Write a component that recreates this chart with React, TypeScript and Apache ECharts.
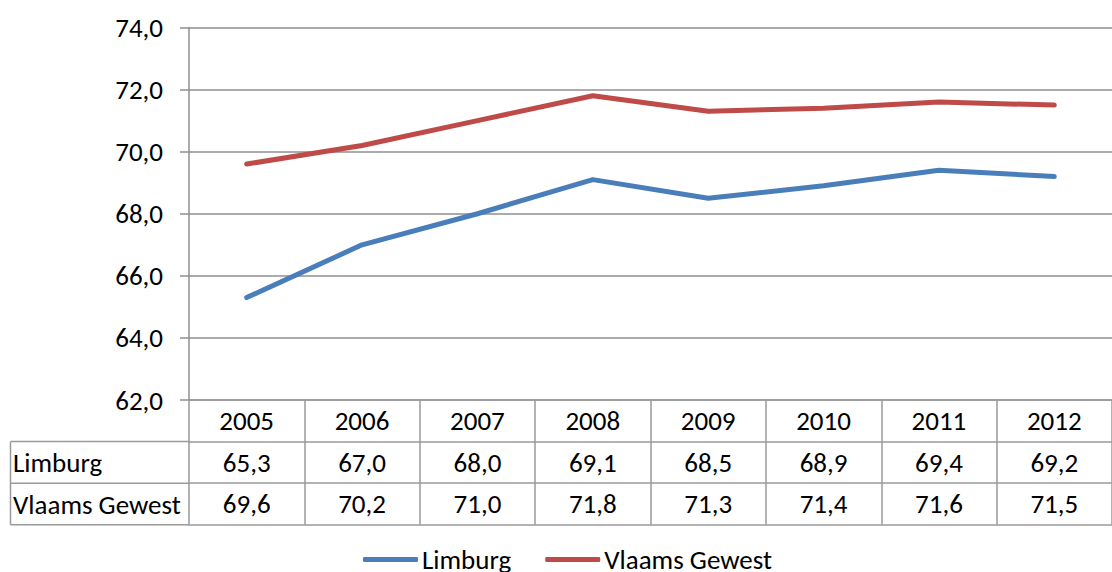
import React, { useEffect, useRef } from "react";
import * as echarts from "echarts";

const years = ["2005", "2006", "2007", "2008", "2009", "2010", "2011", "2012"];
const limburg = [65.3, 67.0, 68.0, 69.1, 68.5, 68.9, 69.4, 69.2];
const vlaams = [69.6, 70.2, 71.0, 71.8, 71.3, 71.4, 71.6, 71.5];
const seriesNames = ["Limburg", "Vlaams Gewest"];
const yMin = 62;
const yMax = 74;
const yStep = 2;

const FONT = "Calibri, Carlito, Lato, sans-serif";
const FS = 27;
const GRID_COLOR = "#8f8f8f";
const TABLE_COLOR = "#9a9a9a";
const BLUE = "#4A7EBB";
const RED = "#BE4B48";

const fmt = (v: number) => v.toFixed(1).replace(".", ",");

export default function App() {
  const ref = useRef<HTMLDivElement>(null);
  useEffect(() => {
    if (!ref.current) return;
    const chart = echarts.init(ref.current, undefined, { renderer: "svg" });
    const gridTop = 27.5;
    const gridBottomY = 400;
    const gridLeft = 189;
    const rowH = 41.6;
    const baseAxis = {
      type: "category" as const,
      gridIndex: 0,
      position: "bottom" as const,
      boundaryGap: true,
      axisLine: { show: true, lineStyle: { color: TABLE_COLOR, width: 1.5 } },
      axisTick: { show: false },
      splitLine: { show: false },
    };
    const labelStyle = {
      interval: 0,
      color: "#000",
      fontFamily: FONT,
      fontSize: FS,
      verticalAlign: "middle" as const,
      margin: 20.5,
    };
    chart.setOption({
      animation: false,
      grid: {
        left: gridLeft,
        right: -18.6,
        top: gridTop,
        bottom: 572 - gridBottomY,
        containLabel: false,
      },
      xAxis: [
        {
          ...baseAxis,
          data: years,
          axisTick: {
            show: true,
            inside: false,
            length: rowH * 3,
            alignWithLabel: false,
            interval: 0,
            lineStyle: { color: TABLE_COLOR, width: 1.5 },
          },
          axisLabel: { ...labelStyle },
        },
        {
          ...baseAxis,
          offset: rowH,
          data: limburg.map(fmt),
          axisLabel: { ...labelStyle },
        },
        {
          ...baseAxis,
          offset: rowH * 2,
          data: vlaams.map(fmt),
          axisLabel: { ...labelStyle },
        },
        {
          ...baseAxis,
          offset: rowH * 3,
          data: years.map(() => ""),
          axisLabel: { show: false },
        },
      ],
      yAxis: {
        type: "value",
        min: yMin,
        max: yMax,
        interval: yStep,
        axisLine: { show: true, lineStyle: { color: GRID_COLOR, width: 1.5 } },
        axisTick: {
          show: true,
          inside: false,
          length: 9,
          lineStyle: { color: GRID_COLOR, width: 1.5 },
        },
        splitLine: { show: true, lineStyle: { color: GRID_COLOR, width: 1.5 } },
        axisLabel: {
          formatter: (v: number) => fmt(v),
          color: "#000",
          fontFamily: FONT,
          fontSize: FS,
          margin: 26,
        },
      },
      legend: {
        left: 358,
        top: 541,
        itemWidth: 55,
        itemHeight: 5,
        itemGap: 34,
        icon: "roundRect",
        textStyle: { color: "#000", fontFamily: FONT, fontSize: FS, padding: [0, 0, 0, -1] },
        data: seriesNames,
      },
      series: [
        {
          name: seriesNames[0],
          type: "line",
          data: limburg,
          symbol: "none",
          lineStyle: { color: BLUE, width: 5, cap: "round", join: "round" },
          itemStyle: { color: BLUE },
        },
        {
          name: seriesNames[1],
          type: "line",
          data: vlaams,
          symbol: "none",
          lineStyle: { color: RED, width: 5, cap: "round", join: "round" },
          itemStyle: { color: RED },
        },
      ],
      graphic: [
        {
          type: "line",
          shape: { x1: 10.5, y1: gridBottomY + rowH, x2: gridLeft, y2: gridBottomY + rowH },
          style: { stroke: TABLE_COLOR, lineWidth: 1.5 },
        },
        {
          type: "line",
          shape: { x1: 10.5, y1: gridBottomY + rowH * 2, x2: gridLeft, y2: gridBottomY + rowH * 2 },
          style: { stroke: TABLE_COLOR, lineWidth: 1.5 },
        },
        {
          type: "line",
          shape: { x1: 10.5, y1: gridBottomY + rowH * 3, x2: gridLeft, y2: gridBottomY + rowH * 3 },
          style: { stroke: TABLE_COLOR, lineWidth: 1.5 },
        },
        {
          type: "line",
          shape: { x1: 10.5, y1: gridBottomY + rowH, x2: 10.5, y2: gridBottomY + rowH * 3 },
          style: { stroke: TABLE_COLOR, lineWidth: 1.5 },
        },
        {
          type: "text",
          x: 13,
          y: gridBottomY + rowH * 1.5,
          style: {
            text: seriesNames[0],
            fill: "#000",
            font: `${FS}px ${FONT}`,
            verticalAlign: "middle",
          },
        },
        {
          type: "text",
          x: 13,
          y: gridBottomY + rowH * 2.5,
          style: {
            text: seriesNames[1],
            fill: "#000",
            font: `${FS}px ${FONT}`,
            verticalAlign: "middle",
          },
        },
      ],
    });
    return () => chart.dispose();
  }, []);
  return (
    <div
      ref={ref}
      style={{ position: "absolute", left: 0, top: 0, width: 1112, height: 572, background: "#fff" }}
    />
  );
}
